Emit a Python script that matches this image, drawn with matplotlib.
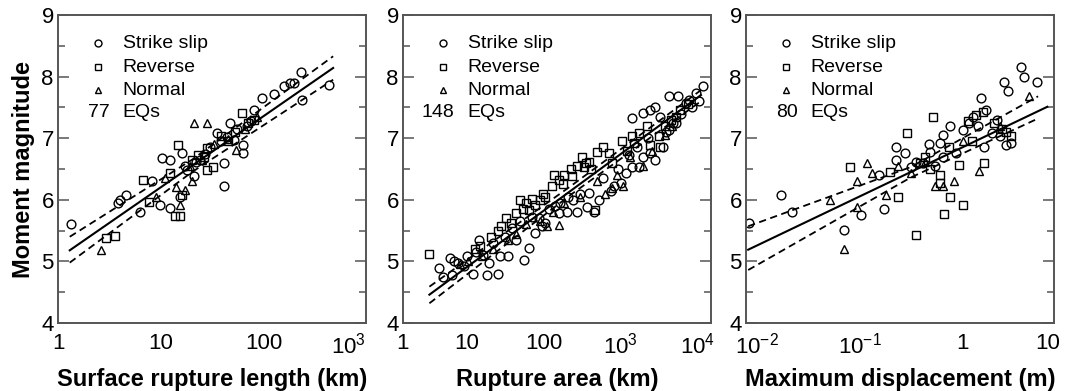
import numpy as np
import matplotlib.pyplot as plt
from matplotlib.ticker import FixedLocator, NullLocator

plt.rcParams['font.family'] = ['Liberation Sans', 'DejaVu Sans']
plt.rcParams['mathtext.fontset'] = 'custom'
plt.rcParams['mathtext.rm'] = 'Liberation Sans'

# ---- panel 1: surface rupture length (km) vs Mw, 77 EQs
ss1_x = [1.35, 4.0, 4.6, 3.8, 6.3, 10.2, 12.3, 9.8, 12.3, 15.4, 15.9, 40.6, 40.6, 63, 63,
         96, 125, 181, 229, 427, 236, 35, 47, 80, 24, 18, 21, 51, 69, 156, 195, 8.1,
         17, 30, 55, 22, 27, 38, 44, 75]
ss1_y = [5.61, 6.00, 6.08, 5.95, 5.81, 6.68, 6.65, 5.92, 5.86, 6.05, 6.76, 6.23, 6.59, 6.76, 6.89,
         7.65, 7.72, 7.89, 8.08, 7.86, 7.62, 7.08, 7.24, 7.46, 6.65, 6.49, 6.38, 6.97, 7.19, 7.84, 7.90, 6.30,
         6.55, 6.85, 7.15, 6.62, 6.75, 6.95, 7.02, 7.28]
rv1_x = [3.6, 6.7, 14.8, 13.7, 15.4, 23, 28, 32, 28, 61.5, 15.9, 38, 80, 12.3, 7.6, 20, 45, 52, 26, 70, 2.9]
rv1_y = [5.41, 6.32, 6.89, 5.73, 5.73, 6.73, 6.84, 6.54, 6.49, 7.41, 6.08, 7.03, 7.30, 6.43, 5.97,
         6.65, 6.95, 7.10, 6.70, 7.25, 5.38]
nm1_x = [2.6, 20.7, 28, 17, 20, 15.4, 53, 25, 14, 45, 33, 65, 11, 19, 85, 9]
nm1_y = [5.18, 7.24, 7.24, 6.16, 6.30, 5.92, 6.81, 6.65, 6.20, 6.98, 6.90, 7.15, 6.35, 6.55, 7.35, 6.05]
fit1_x = [1.3, 470]
fit1_y = [5.18, 8.14]
up1_x = [1.3, 20, 470]
up1_y = [5.40, 6.65, 8.33]
lo1_x = [1.3, 20, 470]
lo1_y = [4.98, 6.45, 7.95]

# ---- panel 2: rupture area vs Mw, 148 EQs
ss2_x = [4.4, 6.1, 7.7, 9.9, 6.4, 14.5, 18, 25.6, 12.1, 55, 26.6, 34, 4.9, 9.3, 19.1, 64, 43, 77, 95,
         200, 269, 364, 444, 518, 740, 998, 814, 1154, 1406, 1924, 1732, 2368, 2812, 3478, 4248,
         5136, 2812, 4248, 5476, 6956, 11544, 1406, 1924, 2368, 3182, 7696, 9324, 385, 155, 237,
         104, 6.8, 13.2, 22, 38.5, 31, 49, 70, 118, 163, 296, 592, 918, 1258, 1628, 2220, 3848, 4736,
         6068, 8288, 10360, 16.3, 86, 141, 207]
ss2_y = [4.89, 5.05, 4.97, 5.08, 4.78, 5.35, 4.78, 4.80, 4.80, 5.03, 5.08, 5.09, 4.75, 4.92, 4.97, 5.22,
         5.35, 5.46, 5.57, 5.81, 5.81, 5.89, 5.81, 6.00, 6.14, 6.27, 6.22, 6.43, 6.54, 6.70, 6.54, 6.76,
         6.65, 6.86, 7.14, 7.24, 7.51, 7.68, 7.68, 7.57, 7.84, 7.32, 7.41, 7.46, 7.35, 7.62, 7.73, 6.11,
         5.78, 6.00, 5.62, 5.00, 5.15, 5.30, 5.55, 5.40, 5.66, 5.72, 5.85, 5.95, 6.10, 6.35, 6.50, 6.72,
         6.85, 7.00, 7.10, 7.25, 7.40, 7.50, 7.60, 5.10, 5.70, 5.90, 6.05]
rv2_x = [3.26, 49, 89, 32.6, 43, 135, 181, 232, 315, 333, 488, 1406, 2368, 3108, 3256, 696, 577, 28, 64,
         77, 127, 155, 468, 1732, 2176, 5136, 5920, 20.7, 25.2, 59, 104, 178, 266, 385, 770, 1036,
         3700, 4440, 14.8, 37, 53, 71, 222, 355, 1184, 1480, 7400, 12.6, 96, 414]
rv2_y = [5.12, 6.00, 6.00, 5.70, 5.78, 6.41, 6.41, 6.38, 6.70, 6.54, 6.78, 7.03, 6.89, 7.03, 6.86, 6.76,
         6.86, 5.57, 5.84, 5.92, 6.22, 6.32, 5.84, 7.08, 7.19, 7.35, 7.46, 5.40, 5.50, 5.95, 6.05, 6.25,
         6.55, 6.62, 6.60, 6.95, 7.20, 7.30, 5.25, 5.62, 5.85, 6.02, 6.50, 6.60, 6.80, 6.92, 7.55, 5.20,
         6.10, 6.50]
nm2_x = [110, 155, 777, 1051, 15.5, 59, 1924, 8.1, 22, 44, 89, 133, 296, 488, 622, 1332, 2516, 3700,
         10.4, 34, 185, 888, 4588]
nm2_y = [5.57, 5.59, 6.19, 6.22, 5.08, 5.60, 6.55, 4.95, 5.20, 5.45, 5.65, 5.80, 6.05, 6.30, 6.10,
         6.70, 6.80, 7.05, 5.00, 5.35, 5.95, 6.40, 7.20]
fit2_x = [3.26, 10950]
fit2_y = [4.46, 7.70]
up2_x = [3.26, 222, 10950]
up2_y = [4.59, 6.22, 7.78]
lo2_x = [3.26, 222, 10950]
lo2_y = [4.32, 6.08, 7.60]

# ---- panel 3: maximum displacement (m) vs Mw, 80 EQs
ss3_x = [0.00845, 0.0171, 0.0219, 0.0712, 0.103, 0.173, 0.227, 0.227, 0.274, 0.313, 0.602, 0.751, 0.649,
         1.52, 1.71, 2.56, 2.76, 3.73, 4.01, 5.40, 2.66, 2.35, 1.27, 1.02, 0.876, 0.649, 0.485, 0.414,
         1.64, 1.96, 2.97, 0.352, 0.547, 1.17, 2.19, 0.156, 0.469, 1.41]
ss3_y = [5.63, 6.08, 5.81, 5.51, 5.76, 5.85, 6.86, 6.65, 6.76, 6.54, 6.92, 7.19, 7.05,
         7.65, 7.46, 7.92, 7.76, 8.16, 8.00, 7.92, 6.89, 7.03, 7.35, 7.14, 6.76, 6.70, 6.78, 6.59,
         6.86, 7.08, 6.92, 6.62, 6.55, 7.25, 7.30, 6.40, 6.90, 7.20]
rv3_x = [0.0813, 0.287, 0.52, 0.239, 0.358, 0.657, 1.02, 0.766, 0.938, 1.64, 1.36, 1.60, 2.97, 2.66,
         0.61, 0.61, 1.25, 0.43, 0.196, 2.03, 0.743, 0.485, 2.42, 1.13, 0.391]
rv3_y = [6.54, 7.08, 7.35, 6.05, 5.43, 5.77, 5.92, 6.05, 6.57, 6.60, 7.38, 7.43, 7.03, 7.10,
         6.41, 6.27, 6.95, 6.70, 6.45, 7.25, 6.85, 6.50, 7.15, 7.28, 6.60]
nm3_x = [0.0712, 0.117, 0.133, 0.54, 0.649, 0.837, 1.47, 4.5, 0.0938, 0.0516, 0.18, 0.313, 0.43, 1.02,
         2.35, 0.235, 0.0938]
nm3_y = [5.20, 6.60, 6.43, 6.22, 6.22, 6.30, 6.46, 7.68, 5.89, 6.00, 6.08, 6.43, 6.62, 6.95,
         7.20, 6.55, 6.30]
fit3_x = [0.00821, 6.73]
fit3_y = [5.19, 7.51]
up3_x = [0.00821, 0.313, 5.47]
up3_y = [5.57, 6.53, 7.68]
lo3_x = [0.00821, 0.313, 5.47]
lo3_y = [4.86, 6.36, 7.32]

counts = ['77', '148', '80']
leg_labels = ['Strike slip', 'Reverse', 'Normal']

panels = [
    dict(ss=(ss1_x, ss1_y), rv=(rv1_x, rv1_y), nm=(nm1_x, nm1_y),
         fit=(fit1_x, fit1_y), up=(up1_x, up1_y), lo=(lo1_x, lo1_y),
         xlim=(1, 980), xticks=[1, 10, 100],
         xlabels=['1', '10', '100'],
         edge=[(1.0, r'$\mathregular{10^3}$', 'right')],
         xlabel='Surface rupture length (km)'),
    dict(ss=(ss2_x, ss2_y), rv=(rv2_x, rv2_y), nm=(nm2_x, nm2_y),
         fit=(fit2_x, fit2_y), up=(up2_x, up2_y), lo=(lo2_x, lo2_y),
         xlim=(1.48, 14800), xticks=[10, 100, 1e3, 1e4],
         xlabels=['10', '100', r'$\mathregular{10^3}$', r'$\mathregular{10^4}$'],
         edge=[(0.0, '1', 'center')],
         xlabel='Rupture area (km)'),
    dict(ss=(ss3_x, ss3_y), rv=(rv3_x, rv3_y), nm=(nm3_x, nm3_y),
         fit=(fit3_x, fit3_y), up=(up3_x, up3_y), lo=(lo3_x, lo3_y),
         xlim=(0.00782, 7.82), xticks=[0.01, 0.1, 1],
         xlabels=[r'$\mathregular{10^{-2}}$', r'$\mathregular{10^{-1}}$', '1'],
         edge=[(1.02, '10', 'right')],
         xlabel='Maximum displacement (m)'),
]

W, H = 1065, 391
fig = plt.figure(figsize=(W / 100, H / 100), dpi=100)
lefts = [58, 403, 746]
mk = dict(ls='none', mfc='none', mec='black', mew=1.0)
spine_c = '#555555'
fs_tick = 16

for i, p in enumerate(panels):
    ax = fig.add_axes([lefts[i] / W, 1 - 323 / H, 308 / W, 308 / H])
    ax.set_xscale('log')
    ax.plot(*p['ss'], marker='o', ms=6.3, **mk)
    ax.plot(*p['rv'], marker='s', ms=5.8, **mk)
    ax.plot(*p['nm'], marker='^', ms=5.8, **mk)
    ax.plot(*p['fit'], color='black', lw=1.5)
    ax.plot(*p['up'], color='black', lw=1.3, ls=(0, (4, 2.5)))
    ax.plot(*p['lo'], color='black', lw=1.3, ls=(0, (4, 2.5)))

    ax.set_xlim(*p['xlim'])
    ax.set_ylim(4, 9)
    ax.xaxis.set_major_locator(FixedLocator(p['xticks']))
    ax.xaxis.set_minor_locator(NullLocator())
    ax.set_xticklabels(p['xlabels'])
    for xf, txt, ha in p['edge']:
        ax.text(xf, -0.032, txt, transform=ax.transAxes, ha=ha, va='top', fontsize=fs_tick)
    ax.set_yticks([4, 5, 6, 7, 8, 9])
    ax.set_yticks(np.arange(4.5, 9, 1.0), minor=True)
    ax.tick_params(axis='x', length=0, pad=7, labelsize=fs_tick)
    ax.tick_params(axis='y', which='major', direction='in', length=8, width=1.1,
                   left=True, right=True, labelsize=fs_tick, pad=3, color=spine_c)
    ax.tick_params(axis='y', which='minor', direction='in', length=5, width=1.1,
                   left=True, right=True, color=spine_c)
    for s in ax.spines.values():
        s.set_color(spine_c)
        s.set_linewidth(1.4)
    ax.set_xlabel(p['xlabel'], fontsize=17, fontweight='bold')
    ax.xaxis.set_label_coords(0.5, -0.145)
    if i == 0:
        ax.set_ylabel('Moment magnitude', fontsize=17, fontweight='bold', labelpad=5)

    # legend block
    rows = [0.909, 0.831, 0.756, 0.682]
    for m, lab, yy in zip(['o', 's', '^'], leg_labels, rows):
        ax.plot([0.13], [yy], marker=m, ms=5.0, transform=ax.transAxes, **mk)
        ax.text(0.21, yy, lab, transform=ax.transAxes, va='center', fontsize=14)
    ax.text(0.168, rows[3], counts[i], transform=ax.transAxes, va='center', ha='right', fontsize=14)
    ax.text(0.21, rows[3], 'EQs', transform=ax.transAxes, va='center', fontsize=14)

fig.savefig('out.png', dpi=100, facecolor='white')
